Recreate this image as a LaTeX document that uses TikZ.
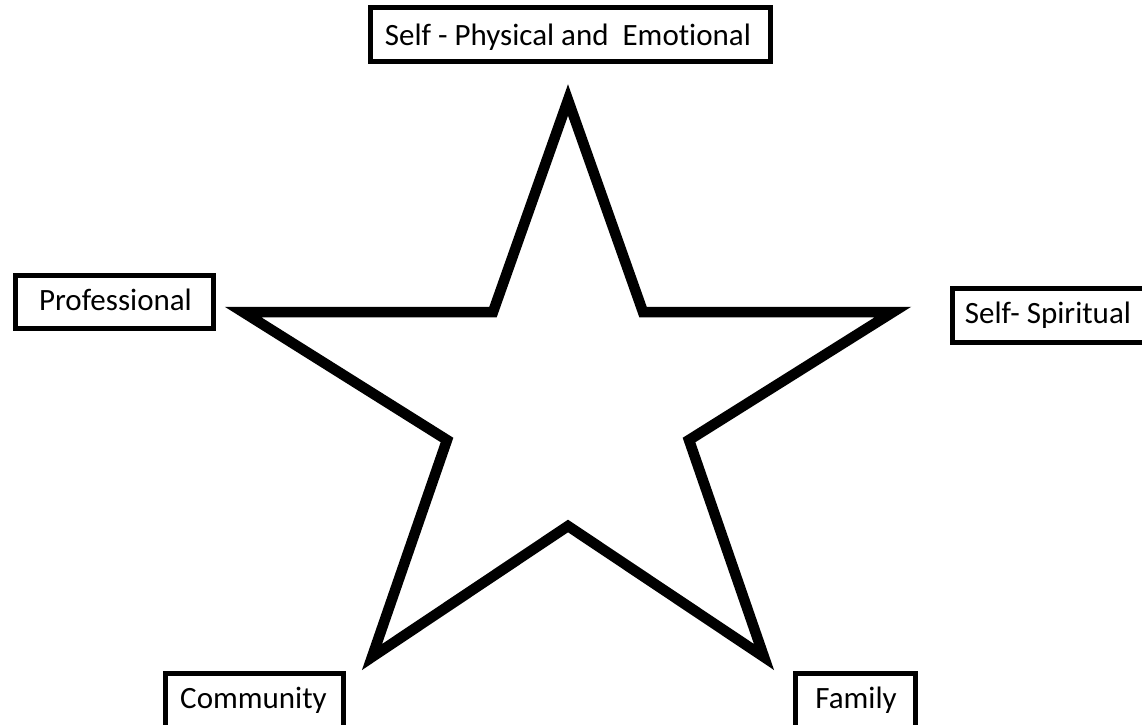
\documentclass[tikz,border=0pt]{standalone}
\usepackage{fontspec}
\setmainfont{Carlito}[Ligatures=NoCommon]
\begin{document}
\begin{tikzpicture}[x=1pt,y=-1pt,
  boxframe/.style={draw=black, line width=5pt, fill=white, inner sep=0pt},
  lbl/.style={anchor=base, inner sep=0pt, font=\fontsize{31}{37}\selectfont},
  starline/.style={draw=black, line width=10.5pt, line join=miter, miter limit=20, fill=white}]
\useasboundingbox (0,0) rectangle (1142,724);
% star vertices
\coordinate (t) at (568,100);
\coordinate (ul) at (493,312);
\coordinate (l) at (243,312);
\coordinate (li) at (447,440);
\coordinate (bl) at (372,657);
\coordinate (b) at (568,526);
\coordinate (br) at (764,657);
\coordinate (ri) at (689,440);
\coordinate (r) at (893,312);
\coordinate (ur) at (643,312);
\path[starline] (t) -- (ur) -- (r) -- (ri) -- (br) -- (b) -- (bl) -- (li) -- (l) -- (ul) -- cycle;
% boxes
\node[boxframe, minimum width=400pt, minimum height=54pt] (topbox) at (570,34) {};
\node[boxframe, minimum width=198pt, minimum height=53pt] (profbox) at (114,301.5) {};
\node[boxframe, minimum width=230pt, minimum height=54pt] (spirbox) at (1067,315) {};
\node[boxframe, minimum width=178pt, minimum height=80pt] (commbox) at (254,713) {};
\node[boxframe, minimum width=120pt, minimum height=80pt] (famibox) at (855,713) {};
% labels
\node[lbl] (toplbl) at (568,45) {Self - Physical and\ \ Emotional};
\node[lbl] (proflbl) at (115.5,310) {Professional};
\node[lbl] (spirlbl) at (1048,323) {Self- Spiritual};
\node[lbl] (commlbl) at (253.5,708) {Community};
\node[lbl] (familbl) at (856,708) {Family};
\end{tikzpicture}
\end{document}
